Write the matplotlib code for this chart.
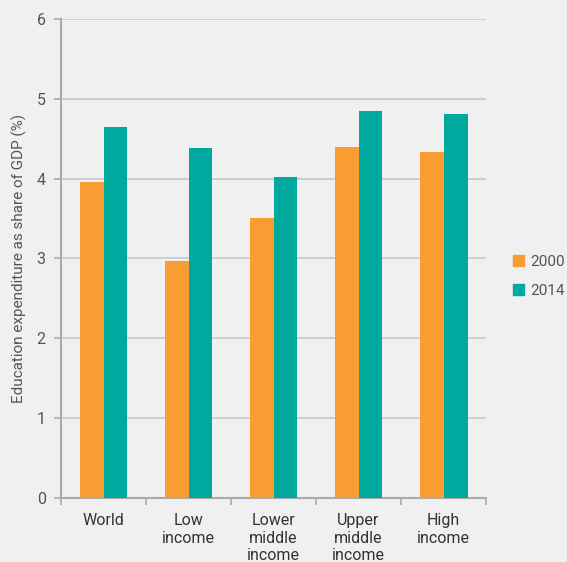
import numpy as np
import matplotlib.pyplot as plt
from matplotlib.patches import Patch

# Data
categories = ['World', 'Low\nincome', 'Lower\nmiddle\nincome', 'Upper\nmiddle\nincome', 'High\nincome']
years = ['2000', '2014']
share_2000 = [3.96, 2.97, 3.51, 4.40, 4.34]
share_2014 = [4.65, 4.39, 4.02, 4.85, 4.81]

orange = '#F99D33'
teal = '#00A99D'
bg = '#F0F0F0'

plt.rcParams['font.family'] = ['Roboto', 'DejaVu Sans']

fig = plt.figure(figsize=(5.67, 5.62), dpi=100, facecolor=bg)
ax = fig.add_axes([0.1076, 0.1139, 0.7496, 0.8523], facecolor=bg)

x = np.arange(len(categories)) + 0.5
w = 0.282
ax.bar(x - w / 2, share_2000, w, color=orange, zorder=3)
ax.bar(x + w / 2, share_2014, w, color=teal, zorder=3)

ax.set_xlim(0, len(categories))
ax.set_ylim(0, 6)
ax.set_yticks(range(0, 7))
ax.set_xticks(np.arange(len(categories) + 1))
ax.set_xticklabels([])
ax.set_xticks(x, minor=True)
ax.set_xticklabels(categories, minor=True, fontsize=11.5, color='#333333',
                   linespacing=1.2, va='top')
ax.tick_params(axis='x', which='minor', length=0, pad=11)
ax.tick_params(axis='x', which='major', length=5, color='#aaaaaa', width=1.2)
ax.tick_params(axis='y', length=5, color='#aaaaaa', width=1.2, labelsize=11.5,
               labelcolor='#555555', pad=6)

ax.grid(axis='y', color='#c8c8c8', linewidth=1.2, zorder=0)
for s in ['top', 'right']:
    ax.spines[s].set_visible(False)
for s in ['left', 'bottom']:
    ax.spines[s].set_color('#aaaaaa')
    ax.spines[s].set_linewidth(1.5)

ax.set_ylabel('Education expenditure as share of GDP (%)', fontsize=11,
              color='#555555', labelpad=7)

handles = [Patch(color=orange), Patch(color=teal)]
fig.legend(handles, years, loc='center left', bbox_to_anchor=(0.905, 0.508),
           frameon=False, fontsize=11, handlelength=0.7, handleheight=0.7,
           handletextpad=0.4, labelspacing=1.0, labelcolor='#555555',
           borderaxespad=0, borderpad=0)

fig.savefig('out.png', dpi=100, facecolor=bg)
